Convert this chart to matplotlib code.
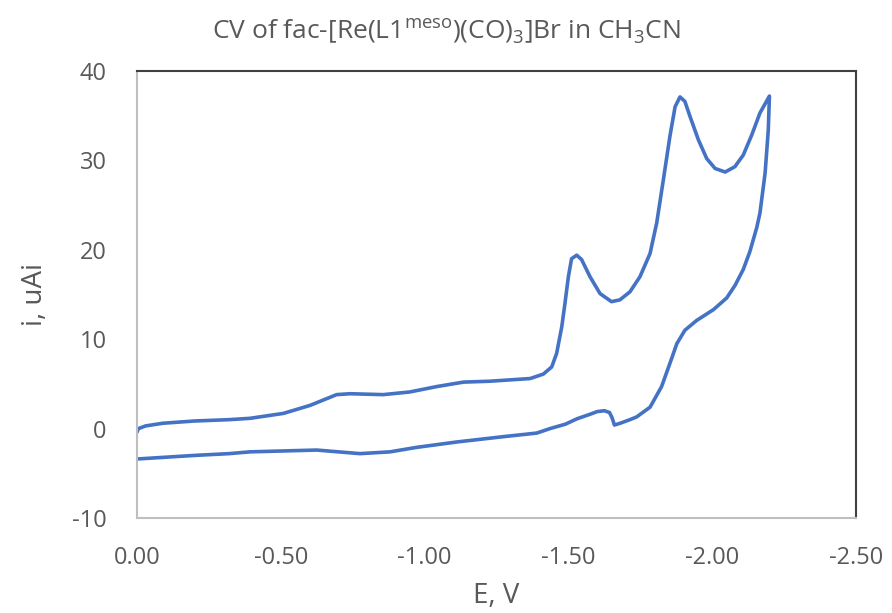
import matplotlib
matplotlib.use("Agg")
import matplotlib.pyplot as plt

# Forward scan (0 -> -2.2 V) then reverse scan (-2.2 -> 0 V)
E = [0.000, -0.005, -0.03, -0.09, -0.20, -0.32, -0.393, -0.509, -0.602, -0.694, -0.741,
     -0.856, -0.949, -1.042, -1.135, -1.227, -1.367, -1.413, -1.442, -1.459, -1.477,
     -1.488, -1.500, -1.511, -1.529, -1.546, -1.575, -1.610, -1.650, -1.679, -1.714,
     -1.749, -1.784, -1.807, -1.830, -1.853, -1.871, -1.888, -1.905, -1.923, -1.952,
     -1.981, -2.010, -2.045, -2.079, -2.108, -2.137, -2.166, -2.199,
     -2.195, -2.184, -2.166, -2.155, -2.131, -2.108, -2.079, -2.050, -2.004, -1.946,
     -1.905, -1.877, -1.853, -1.824, -1.784, -1.737, -1.714, -1.680, -1.660, -1.652,
     -1.643, -1.625, -1.600, -1.575, -1.530, -1.490, -1.436, -1.390, -1.274, -1.111,
     -0.972, -0.880, -0.775, -0.625, -0.393, -0.32, -0.20, -0.10, 0.000]
I = [-0.4, 0.0, 0.3, 0.6, 0.85, 1.0, 1.15, 1.7, 2.6, 3.8, 3.9,
     3.8, 4.1, 4.7, 5.2, 5.3, 5.6, 6.1, 6.9, 8.4, 11.4,
     14.0, 17.0, 19.0, 19.4, 18.9, 17.0, 15.1, 14.2, 14.4, 15.3,
     17.0, 19.6, 23.0, 27.8, 32.7, 36.0, 37.1, 36.6, 34.9, 32.3,
     30.2, 29.1, 28.7, 29.3, 30.6, 32.8, 35.3, 37.2,
     33.4, 28.6, 24.1, 22.5, 19.8, 17.8, 16.0, 14.6, 13.3, 12.1,
     11.0, 9.5, 7.3, 4.7, 2.4, 1.3, 1.0, 0.6, 0.4, 1.2,
     1.8, 2.0, 1.9, 1.6, 1.1, 0.5, 0.0, -0.5, -0.9, -1.5,
     -2.1, -2.6, -2.8, -2.4, -2.6, -2.8, -3.0, -3.2, -3.4]

x_ticks = [0.0, -0.5, -1.0, -1.5, -2.0, -2.5]
y_ticks = [-10, 0, 10, 20, 30, 40]

plt.rcParams['font.family'] = ['Open Sans', 'DejaVu Sans']
text_color = '#595959'

fig = plt.figure(figsize=(8.92, 6.13), dpi=100)
ax = fig.add_axes([137/892, 1-518/613, (856-137)/892, (518-71)/613])

ax.plot(E, I, color='#4472C4', linewidth=2.6, solid_joinstyle='round', solid_capstyle='round')

ax.set_xlim(0, -2.5)
ax.set_ylim(-10, 40)
ax.set_xticks(x_ticks)
ax.set_xticklabels([f"{t:.2f}" for t in x_ticks])
ax.set_yticks(y_ticks)
ax.set_yticklabels([str(t) for t in y_ticks])
ax.tick_params(axis='both', length=0, labelsize=17, colors=text_color)
ax.tick_params(axis='x', pad=20)
ax.tick_params(axis='y', pad=22)

ax.spines['left'].set_color('#BFBFBF')
ax.spines['bottom'].set_color('#BFBFBF')
ax.spines['top'].set_color('#404040')
ax.spines['right'].set_color('#404040')
for s in ax.spines.values():
    s.set_linewidth(1.5)

ax.set_xlabel('E, V', fontsize=20, color=text_color, labelpad=9)
ax.set_ylabel('i, uAi', fontsize=20, color=text_color, labelpad=16)
fig.text(0.5, 1 - 31/613,
         r'CV of fac-[Re(L1$^{\mathregular{meso}}$)(CO)$_{\mathregular{3}}$]Br in CH$_{\mathregular{3}}$CN',
         ha='center', va='center', fontsize=19, color=text_color)

fig.savefig('out.png', dpi=100)
